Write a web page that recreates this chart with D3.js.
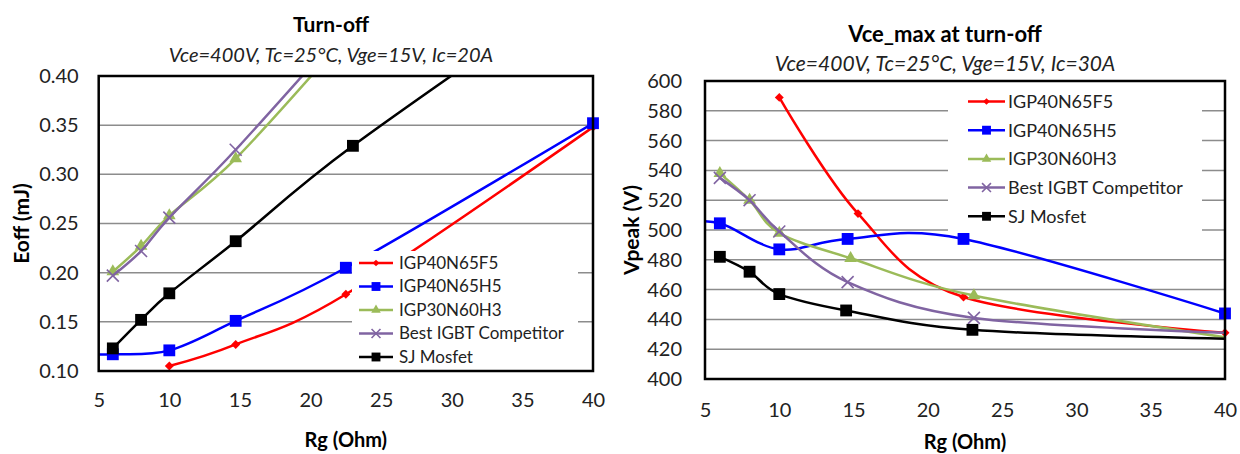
<!DOCTYPE html>
<html>
<head>
<meta charset="utf-8">
<script src="https://cdn.jsdelivr.net/npm/d3@7"></script>
<style>
  body { margin: 0; background: #fff; }
  svg { display: block; font-family: Lato, "Open Sans", sans-serif; }
</style>
</head>
<body>
<script>
// series shared by both charts
const seriesNames = ["IGP40N65F5", "IGP40N65H5", "IGP30N60H3", "Best IGBT Competitor", "SJ Mosfet"];
const seriesColors = ["#ff0000", "#0000ff", "#9bbb59", "#8064a2", "#000000"];
const seriesMarkers = ["diamond", "square", "triangle", "cross", "square"];

// left chart: Eoff (mJ) vs Rg (Ohm)
const eoffRg = [
  [10, 14.7, 22.5, 40],
  [3.3, 6, 10, 14.7, 22.5, 40],
  [6, 8, 10, 14.7, 22.5],
  [6, 8, 10, 14.7, 22.5],
  [6, 8, 10, 14.7, 23, 40]
];
const eoffValues = [
  [0.105, 0.127, 0.178, 0.348],
  [0.117, 0.117, 0.121, 0.151, 0.205, 0.352],
  [0.201, 0.227, 0.258, 0.316, 0.44],
  [0.197, 0.222, 0.256, 0.325, 0.45],
  [0.123, 0.152, 0.179, 0.232, 0.329, 0.50]
];

// right chart: Vpeak (V) vs Rg (Ohm)
const vpeakRg = [
  [10, 15.3, 22.4, 40],
  [3.3, 6, 10, 14.6, 22.4, 40],
  [6, 8, 10, 14.8, 23.1, 40],
  [6, 8, 10, 14.6, 23.1, 40],
  [6, 8, 10, 14.5, 23, 40]
];
const vpeakValues = [
  [589, 511, 455, 431],
  [505, 504.5, 487, 494, 494, 444],
  [538, 520, 498, 481, 456, 428],
  [535, 520, 499, 465, 441, 431],
  [482, 472, 457, 446, 433, 427]
];
// these series show no marker on their last point in the Vpeak chart
const vpeakNoEndMarker = ["IGP30N60H3", "Best IGBT Competitor", "SJ Mosfet"];

const rgTicks = [5, 10, 15, 20, 25, 30, 35, 40];
const eoffTicks = [0.10, 0.15, 0.20, 0.25, 0.30, 0.35, 0.40];
const vpeakTicks = [400, 420, 440, 460, 480, 500, 520, 540, 560, 580, 600];

const svg = d3.select("body").append("svg")
    .attr("width", 1240)
    .attr("height", 454);

function markerPath(type, big) {
    const k = big ? 1 : 0.75;
    if (type == "diamond") return d3.symbol(d3.symbolSquare, 40 * k * k)();
    if (type == "square") return d3.symbol(d3.symbolSquare, 140 * k * k)();
    if (type == "triangle") return d3.symbol(d3.symbolTriangle, 70 * k * k)();
    return d3.symbol(d3.symbolX, 95 * k * k)();
}

function drawMarker(g, type, color, x, y, big) {
    const m = g.append("path")
        .attr("d", markerPath(type, big))
        .attr("transform", `translate(${x},${y})` + (type == "diamond" ? " rotate(45)" : ""));
    if (type == "cross") m.attr("fill", "none").attr("stroke", color).attr("stroke-width", 1.6);
    else m.attr("fill", color);
}

function drawChart(o) {
    const g = svg.append("g");
    const x = d3.scaleLinear().domain([5, 40]).range([o.left, o.right]);
    const y = d3.scaleLinear().domain(o.yDomain).range([o.bottom, o.top]);

    // titles
    g.append("text").attr("x", o.titleX).attr("y", o.titleY)
        .attr("text-anchor", "middle").attr("font-weight", "bold")
        .attr("font-size", o.titleSize).text(o.title);
    g.append("text").attr("x", o.titleX).attr("y", o.subY)
        .attr("text-anchor", "middle").attr("font-style", "italic")
        .attr("font-size", o.subSize).attr("fill", "#222").text(o.subtitle);

    // gridlines
    g.selectAll(".grid").data(o.yTicks.slice(1, -1)).join("line")
        .attr("x1", o.left).attr("x2", o.right)
        .attr("y1", d => y(d)).attr("y2", d => y(d))
        .attr("stroke", "#8c8c8c").attr("stroke-width", 1.5);

    // axes (labels only)
    const yAxis = g.append("g").attr("transform", `translate(${o.left},0)`)
        .call(d3.axisLeft(y).tickValues(o.yTicks).tickFormat(o.yFormat).tickSize(0).tickPadding(o.yPad));
    const xAxis = g.append("g").attr("transform", `translate(0,${o.bottom})`)
        .call(d3.axisBottom(x).tickValues(rgTicks).tickSize(0).tickPadding(o.xPad));
    [yAxis, xAxis].forEach(a => {
        a.select(".domain").remove();
        a.selectAll("text").attr("font-size", 20).attr("fill", "#222").attr("font-family", "Lato, sans-serif");
    });

    g.append("text").attr("x", (o.left + o.right) / 2).attr("y", o.xTitleY)
        .attr("text-anchor", "middle").attr("font-weight", "bold").attr("font-size", 20)
        .text("Rg (Ohm)");
    g.append("text")
        .attr("transform", `translate(${o.yTitleX},${(o.top + o.bottom) / 2}) rotate(-90)`)
        .attr("text-anchor", "middle").attr("dy", "0.35em").attr("font-weight", "bold").attr("font-size", 21)
        .text(o.yTitle);

    // series
    const clipId = "clip-" + o.id;
    g.append("clipPath").attr("id", clipId).append("rect")
        .attr("x", o.left).attr("y", o.top).attr("width", o.right - o.left).attr("height", o.bottom - o.top);

    const line = d3.line().curve(d3.curveCatmullRom.alpha(0))
        .x(d => x(d[0])).y(d => y(d[1]));

    seriesNames.forEach((name, i) => {
        const pts = o.rg[i].map((r, j) => [r, o.values[i][j]]);
        g.append("path").datum(pts)
            .attr("clip-path", `url(#${clipId})`)
            .attr("fill", "none").attr("stroke", seriesColors[i]).attr("stroke-width", 2.5)
            .attr("d", line);
        pts.forEach((p, j) => {
            if (p[0] < 5 || p[1] > o.yDomain[1]) return;
            if (o.noEnd && o.noEnd.includes(name) && j == pts.length - 1) return;
            drawMarker(g, seriesMarkers[i], seriesColors[i], x(p[0]), y(p[1]), true);
        });
    });

    // legend with white box over the plot
    const lg = g.append("g");
    lg.append("rect").attr("x", o.legend.x).attr("y", o.legend.y)
        .attr("width", o.legend.w).attr("height", o.legend.h).attr("fill", "#fff");
    seriesNames.forEach((name, i) => {
        const ly = o.legend.row0 + i * o.legend.step;
        const lx = o.legend.x + o.legend.pad;
        lg.append("line").attr("x1", lx).attr("x2", lx + o.legend.len)
            .attr("y1", ly).attr("y2", ly)
            .attr("stroke", seriesColors[i]).attr("stroke-width", 2.5);
        drawMarker(lg, seriesMarkers[i], seriesColors[i], lx + o.legend.len / 2, ly, false);
        lg.append("text").attr("x", lx + o.legend.len + o.legend.gap).attr("y", ly)
            .attr("dy", "0.35em").attr("font-size", o.legend.size).attr("fill", "#222")
            .text(name);
    });

    // plot border
    g.append("rect").attr("x", o.left).attr("y", o.top)
        .attr("width", o.right - o.left).attr("height", o.bottom - o.top)
        .attr("fill", "none").attr("stroke", "#000").attr("stroke-width", 2.5);
}

drawChart({
    id: "eoff",
    left: 98.7, right: 593, top: 76, bottom: 371,
    yDomain: [0.10, 0.40], yTicks: eoffTicks, yFormat: d3.format(".2f"),
    yPad: 20, xPad: 22,
    rg: eoffRg, values: eoffValues,
    title: "Turn-off", subtitle: "Vce=400V, Tc=25°C, Vge=15V, Ic=20A",
    titleX: 331, titleY: 32, subY: 62, titleSize: 21, subSize: 20,
    xTitleY: 447, yTitleX: 22, yTitle: "Eoff (mJ)",
    legend: { x: 352, y: 251, w: 226, h: 117, row0: 263, step: 23.5, pad: 7, len: 34, gap: 6, size: 17 }
});

drawChart({
    id: "vpeak",
    left: 705, right: 1225, top: 81, bottom: 379,
    yDomain: [400, 600], yTicks: vpeakTicks, yFormat: d3.format("d"),
    yPad: 23, xPad: 24,
    rg: vpeakRg, values: vpeakValues, noEnd: vpeakNoEndMarker,
    title: "Vce_max at turn-off", subtitle: "Vce=400V, Tc=25°C, Vge=15V, Ic=30A",
    titleX: 945, titleY: 42, subY: 71, titleSize: 22, subSize: 21,
    xTitleY: 449, yTitleX: 632, yTitle: "Vpeak (V)",
    legend: { x: 948, y: 82, w: 254, h: 151, row0: 101.5, step: 28.7, pad: 20, len: 37, gap: 3, size: 18 }
});
</script>
</body>
</html>
